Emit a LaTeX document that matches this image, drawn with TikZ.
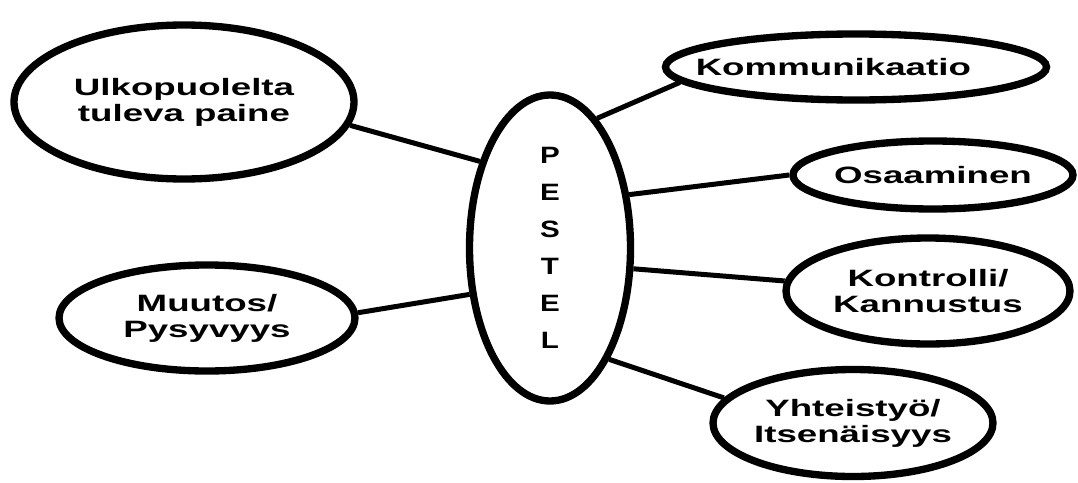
\documentclass[tikz,border=0pt]{standalone}
\usepackage{fontspec}
\setmainfont{Liberation Sans}
\newfontfamily\lblfont{Liberation Sans}[FakeStretch=1.55]
\newfontfamily\pestelfont{Liberation Sans}[FakeStretch=1.25]
\usetikzlibrary{shapes.geometric}
\begin{document}
\begin{tikzpicture}[x=0.75pt,y=-0.75pt,
  ell/.style={ellipse, draw, line width=5.5pt, fill=white, inner sep=0pt, align=center,
    font=\lblfont\bfseries\fontsize{17.75}{19.5}\selectfont},
  conn/.style={line width=3.75pt}]
\useasboundingbox[fill=white] (0,0) rectangle (1078,482);
% nodes
\node[ell, minimum width=255pt, minimum height=115.5pt] (ulko) at (184,102) {Ulkopuolelta\\tuleva paine};
\node[ell, minimum width=222pt, minimum height=79.5pt] (muutos) at (207,318) {Muutos/\\Pysyvyys};
\node[ell, minimum width=120.75pt, minimum height=229.5pt,
  font=\pestelfont\bfseries\fontsize{17.75}{27.75}\selectfont] (pestel) at (550,248) {P\\E\\S\\T\\E\\L};
\node[ell, minimum width=285.75pt, minimum height=49.5pt] (komm) at (856,67) {\makebox[0pt]{Kommunikaatio\hspace*{34pt}}};
\node[ell, minimum width=210pt, minimum height=51pt] (osaa) at (933,175) {Osaaminen};
\node[ell, minimum width=213pt, minimum height=79.5pt] (kontr) at (928,291) {Kontrolli/\\Kannustus};
\node[ell, minimum width=210pt, minimum height=80.25pt] (yht) at (853,423) {Yhteistyö/\\Itsenäisyys};
% connectors
\draw[conn] (ulko.-8.7) -- (pestel.129);
\draw[conn] (muutos.2.3) -- (pestel.210.4);
\draw[conn] (pestel.70.8) -- (komm.185);
\draw[conn] (pestel.34.9) -- (osaa.180);
\draw[conn] (pestel.-14.8) -- (kontr.176.9);
\draw[conn] (pestel.-62.4) -- (yht.169.6);
\end{tikzpicture}
\end{document}
